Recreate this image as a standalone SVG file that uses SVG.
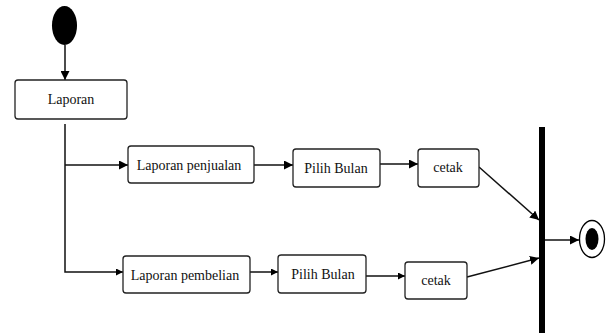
<svg xmlns="http://www.w3.org/2000/svg" width="614" height="333" viewBox="0 0 614 333">
<defs>
<style>
.box{fill:#fff;stroke:#222;stroke-width:1.3}
.t{font-family:"Liberation Serif","Times New Roman",serif;font-size:14px;fill:#111;text-anchor:middle}
.c{fill:none;stroke:#111;stroke-width:1.5}
</style>
<marker id="ah" viewBox="0 0 10 10" refX="10" refY="5" markerWidth="7" markerHeight="7" markerUnits="userSpaceOnUse" orient="auto">
<path d="M0,0 L10,5 L0,10 z" fill="#000"/>
</marker>
<marker id="ahb" viewBox="0 0 10 10" refX="10" refY="5" markerWidth="9" markerHeight="9" markerUnits="userSpaceOnUse" orient="auto">
<path d="M0,0 L10,5 L0,10 z" fill="#000"/>
</marker>
</defs>
<rect width="614" height="333" fill="#fff"/>
<g id="connectors">
<path class="c" d="M65,45 V80" marker-end="url(#ahb)"/>
<path class="c" d="M65,124 V272 H123" marker-end="url(#ah)"/>
<path class="c" d="M65,165 H128" marker-end="url(#ahb)"/>
<path class="c" d="M254,165 H293" marker-end="url(#ahb)"/>
<path class="c" d="M380,164 H418" marker-end="url(#ahb)"/>
<path class="c" d="M479,167 L539,220" marker-end="url(#ahb)"/>
<path class="c" d="M250,272 H278" stroke="#444" stroke-width="1" marker-end="url(#ah)"/>
<path class="c" d="M366,276 H405" stroke="#666" stroke-width="1" marker-end="url(#ah)"/>
<path class="c" d="M467,277 L539,258" marker-end="url(#ahb)"/>
<path class="c" d="M545,240 H579" marker-end="url(#ahb)"/>
</g>
<g id="start"><ellipse cx="64.5" cy="25.5" rx="12.5" ry="19.5" fill="#000"/></g>
<g id="laporan"><rect class="box" x="15" y="80" width="112" height="39" rx="3"/><text class="t" x="71" y="104">Laporan</text></g>
<g id="laporan-penjualan"><rect class="box" x="128" y="146" width="126" height="37" rx="3"/><text class="t" x="189" y="170">Laporan penjualan</text></g>
<g id="pilih-bulan-1"><rect class="box" x="293" y="149" width="87" height="38" rx="3"/><text class="t" x="336" y="173">Pilih Bulan</text></g>
<g id="cetak-1"><rect class="box" x="418" y="149" width="61" height="38" rx="3"/><text class="t" x="448" y="172">cetak</text></g>
<g id="laporan-pembelian"><rect class="box" x="123" y="256" width="127" height="37" rx="3"/><text class="t" x="185" y="280">Laporan pembelian</text></g>
<g id="pilih-bulan-2"><rect class="box" x="278" y="255" width="88" height="38" rx="3"/><text class="t" x="323" y="279">Pilih Bulan</text></g>
<g id="cetak-2"><rect class="box" x="405" y="262" width="62" height="37" rx="3"/><text class="t" x="436" y="285">cetak</text></g>
<g id="join-bar"><rect x="539" y="127" width="6" height="206" fill="#000"/></g>
<g id="end"><ellipse cx="592" cy="239" rx="12.5" ry="18.5" fill="#fff" stroke="#000" stroke-width="1.3"/><ellipse cx="592" cy="239" rx="6.5" ry="11" fill="#000"/></g>
</svg>
